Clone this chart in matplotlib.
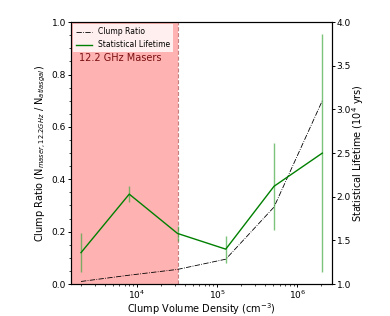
import matplotlib
matplotlib.use('Agg')
import matplotlib.pyplot as plt
from matplotlib.ticker import AutoMinorLocator
import numpy as np

# clump volume density bins (cm^-3)
density = [2.0e3, 8.0e3, 3.2e4, 1.28e5, 5.12e5, 2.05e6]
# fraction of atlasgal clumps with a 12.2 GHz maser
clump_ratio = [0.01, 0.034, 0.056, 0.095, 0.294, 0.70]
# statistical lifetime (10^4 yrs) and its error
lifetime = [1.36, 2.03, 1.58, 1.40, 2.12, 2.50]
lifetime_err = [0.22, 0.095, 0.09, 0.155, 0.50, 1.36]

shade_edge = 3.2e4
xlim = (1.5e3, 2.7e6)

fig = plt.figure(figsize=(3.9, 3.16), dpi=100)
ax = fig.add_axes([0.182, 0.101, 0.669, 0.829])
ax2 = ax.twinx()

ax.axvspan(xlim[0], shade_edge, color='red', alpha=0.3, lw=0)
ax.axvline(shade_edge, color='darkred', ls='--', lw=0.8, alpha=0.5)

l1, = ax.plot(density, clump_ratio, color='k', ls='-.', lw=0.6, label='Clump Ratio')
ax2.errorbar(density, lifetime, yerr=lifetime_err, fmt='none', ecolor='#44aa44', alpha=0.7, elinewidth=1.0)
l2, = ax2.plot(density, lifetime, color='green', lw=1.0, label='Statistical Lifetime')

ax.set_xscale('log')
ax.set_xlim(*xlim)
ax.set_ylim(0, 1)
ax2.set_ylim(1, 4)
ax.yaxis.set_minor_locator(AutoMinorLocator(4))

ax.set_xlabel('Clump Volume Density (cm$^{-3}$)', fontsize=7)
ax.set_ylabel('Clump Ratio (N$_{maser,12.2GHz}$ / N$_{atlasgal}$)', fontsize=7)
ax2.set_ylabel('Statistical Lifetime (10$^4$ yrs)', fontsize=7)
for a in (ax, ax2):
    a.tick_params(which='major', labelsize=6.5, pad=1, length=2.5, width=0.7)
    a.tick_params(which='minor', length=1.5, width=0.5)
    for s in a.spines.values():
        s.set_linewidth(0.8)
ax.xaxis.set_label_coords(0.5, -0.064)
ax.yaxis.labelpad = 3
ax2.yaxis.labelpad = -1

ax.legend([l1, l2], ['Clump Ratio', 'Statistical Lifetime'], loc='upper left', fontsize=5.5,
          framealpha=0.8, fancybox=False, edgecolor='none', borderaxespad=0.3)
ax.text(0.03, 0.85, '12.2 GHz Masers', transform=ax.transAxes, fontsize=7, color='#7a1010')

fig.savefig('out.png', dpi=100)
